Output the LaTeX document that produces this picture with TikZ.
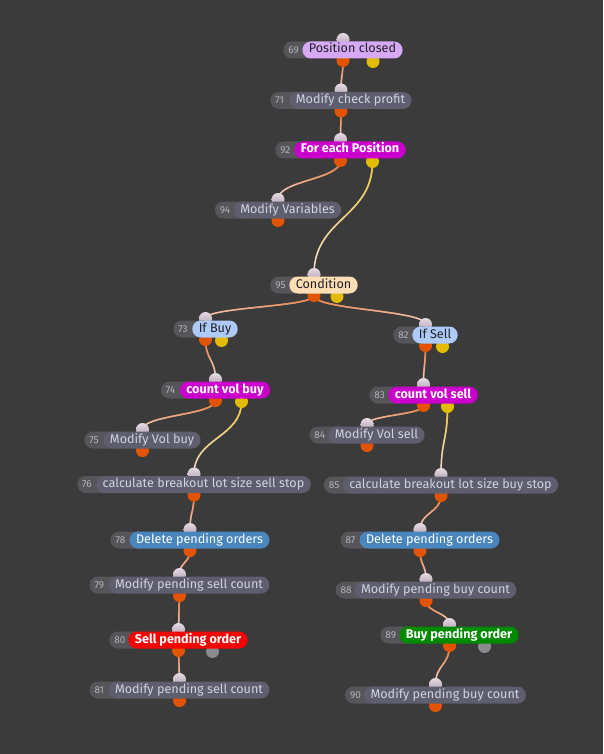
\documentclass[tikz,border=0pt]{standalone}
\usepackage{fontspec}
\setmainfont{Fira Sans}
\usetikzlibrary{positioning,calc,fadings}
\definecolor{canvas}{HTML}{3B3B3B}
\definecolor{tagfill}{HTML}{55555A}
\definecolor{tagtext}{HTML}{B4B4B8}
\definecolor{slate}{HTML}{5E5E6E}
\definecolor{slatetext}{HTML}{D2D2E0}
\definecolor{lavender}{HTML}{D6A8F6}
\definecolor{magentafill}{HTML}{CC00CC}
\definecolor{peach}{HTML}{FCDDB4}
\definecolor{skyblue}{HTML}{AECAF8}
\definecolor{steel}{HTML}{4A86BE}
\definecolor{sellred}{HTML}{F80000}
\definecolor{buygreen}{HTML}{008A00}
\definecolor{darktext}{HTML}{202024}
\definecolor{portlight}{HTML}{E6DAE4}
\definecolor{portdark}{HTML}{B0A2B0}
\definecolor{portorange}{HTML}{E25400}
\definecolor{portyellow}{HTML}{E2BC00}
\definecolor{portgrey}{HTML}{8A8A8E}
\definecolor{wirepale}{HTML}{F6E0DC}
\definecolor{wireorange}{HTML}{EE6A1E}
\definecolor{wireyellow}{HTML}{F0C828}
\pgfdeclarelayer{canvas}
\pgfdeclarelayer{wires}
\pgfdeclarelayer{ports}
\pgfsetlayers{canvas,wires,ports,main}
\tikzset{
  pill/.style={rounded corners=8.5pt,minimum height=17pt,inner xsep=6.5pt,inner ysep=0pt,
    text height=9pt,text depth=3pt,font=\fontsize{12.6}{13}\selectfont},
  plainpill/.style={pill,fill=slate,text=slatetext},
  lightpill/.style={pill,fill=#1,text=darktext},
  boldpill/.style={pill,fill=#1,text=white,font=\fontsize{12.6}{13}\selectfont\bfseries},
  whitepill/.style={pill,fill=#1,text=white},
  numtag/.style={rounded corners=8.5pt,fill=tagfill,text=tagtext,minimum height=17pt,
    text width=28pt,inner xsep=5pt,inner ysep=0pt,anchor=west,
    font=\fontsize{10}{10}\selectfont},
  inport/.style={circle,minimum size=13pt,inner sep=0pt,top color=portlight,bottom color=portdark},
  outport/.style={circle,minimum size=13pt,inner sep=0pt,fill=#1},
  wirebase/.style={line width=1.5pt,line cap=round,draw=wirepale},
}
% name, centre, number, label, pill style
\newcommand{\flownode}[5]{%
  \node[#5] (#1) at ($(#2)+(9.5,0)$) {#4};
  \coordinate (#1-in) at ($(#2)+(0,-10.5)$);
  \coordinate (#1-out) at ($(#2)+(0,10.5)$);
  \begin{pgfonlayer}{ports}
    \node[inport] at (#1-in) {};
    \node[outport=portorange] at (#1-out) {};
    \node[numtag] (#1-num) at ($(#1.west)+(-19,0)$) {#3};
  \end{pgfonlayer}
}
% name, x offset, colour
\newcommand{\sideport}[3]{%
  \coordinate (#1-side) at ($(#1-out)+(#2,1)$);
  \begin{pgfonlayer}{ports}
    \node[outport=#3] at (#1-side) {};
  \end{pgfonlayer}
}
% from, to, colour
\newcommand{\wire}[3]{%
  \coordinate (wm) at ($(#1)!0.5!(#2)$);
  \begin{pgfonlayer}{wires}
    \draw[wirebase] (#1) .. controls (#1 |- wm) and (#2 |- wm) .. (#2);
    \draw[wirebase,draw=#3,path fading=south] (#1) .. controls (#1 |- wm) and (#2 |- wm) .. (#2);
  \end{pgfonlayer}
}
\begin{document}
\begin{tikzpicture}[x=1pt,y=-1pt]
  \begin{pgfonlayer}{canvas}
    \fill[canvas] (0,0) rectangle (603,754);
  \end{pgfonlayer}
  \useasboundingbox (0,0) rectangle (603,754);

  % main chain
  \flownode{n69}{343,50}{69}{Position closed}{lightpill=lavender}
  \flownode{n71}{341,100.5}{71}{Modify check profit}{plainpill}
  \flownode{n92}{340.5,150}{92}{For each Position}{boldpill=magentafill}
  \flownode{n94}{278,210}{94}{Modify Variables}{plainpill}
  \flownode{n95}{314,285}{95}{Condition}{lightpill=peach}
  \sideport{n69}{30}{portyellow}
  \sideport{n92}{32}{portyellow}
  \sideport{n95}{23}{portyellow}

  % buy branch
  \flownode{n73}{205.5,329}{73}{If Buy}{lightpill=skyblue}
  \flownode{n74}{215.5,390}{74}{count vol buy}{boldpill=magentafill}
  \flownode{n75}{142.5,440}{75}{Modify Vol buy}{plainpill}
  \flownode{n76}{194,484.5}{76}{calculate breakout lot size sell stop}{plainpill}
  \flownode{n78}{190,540}{78}{Delete pending orders}{whitepill=steel}
  \flownode{n79}{179.5,585}{79}{Modify pending sell count}{plainpill}
  \flownode{n80}{178.5,640}{80}{Sell pending order}{boldpill=sellred}
  \flownode{n81}{179.5,690}{81}{Modify pending sell count}{plainpill}
  \sideport{n73}{16}{portyellow}
  \sideport{n74}{26}{portyellow}
  \sideport{n80}{34}{portgrey}

  % sell branch
  \flownode{n82}{425.5,335}{82}{If Sell}{lightpill=skyblue}
  \flownode{n83}{423.5,395}{83}{count vol sell}{boldpill=magentafill}
  \flownode{n84}{367,435}{84}{Modify Vol sell}{plainpill}
  \flownode{n85}{441,485}{85}{calculate breakout lot size buy stop}{plainpill}
  \flownode{n87}{420,540}{87}{Delete pending orders}{whitepill=steel}
  \flownode{n88}{426,590}{88}{Modify pending buy count}{plainpill}
  \flownode{n89}{449.5,635}{89}{Buy pending order}{boldpill=buygreen}
  \flownode{n90}{435.5,695}{90}{Modify pending buy count}{plainpill}
  \sideport{n82}{17}{portyellow}
  \sideport{n83}{24}{portyellow}
  \sideport{n89}{35}{portgrey}

  % connectors
  \wire{n69-out}{n71-in}{wireorange}
  \wire{n71-out}{n92-in}{wireorange}
  \wire{n92-out}{n94-in}{wireorange}
  \wire{n92-side}{n95-in}{wireyellow}
  \wire{n95-out}{n73-in}{wireorange}
  \wire{n95-out}{n82-in}{wireorange}
  \wire{n73-out}{n74-in}{wireorange}
  \wire{n74-out}{n75-in}{wireorange}
  \wire{n74-side}{n76-in}{wireyellow}
  \wire{n76-out}{n78-in}{wireorange}
  \wire{n78-out}{n79-in}{wireorange}
  \wire{n79-out}{n80-in}{wireorange}
  \wire{n80-out}{n81-in}{wireorange}
  \wire{n82-out}{n83-in}{wireorange}
  \wire{n83-out}{n84-in}{wireorange}
  \wire{n83-side}{n85-in}{wireyellow}
  \wire{n85-out}{n87-in}{wireorange}
  \wire{n87-out}{n88-in}{wireorange}
  \wire{n88-out}{n89-in}{wireorange}
  \wire{n89-out}{n90-in}{wireorange}
\end{tikzpicture}
\end{document}
